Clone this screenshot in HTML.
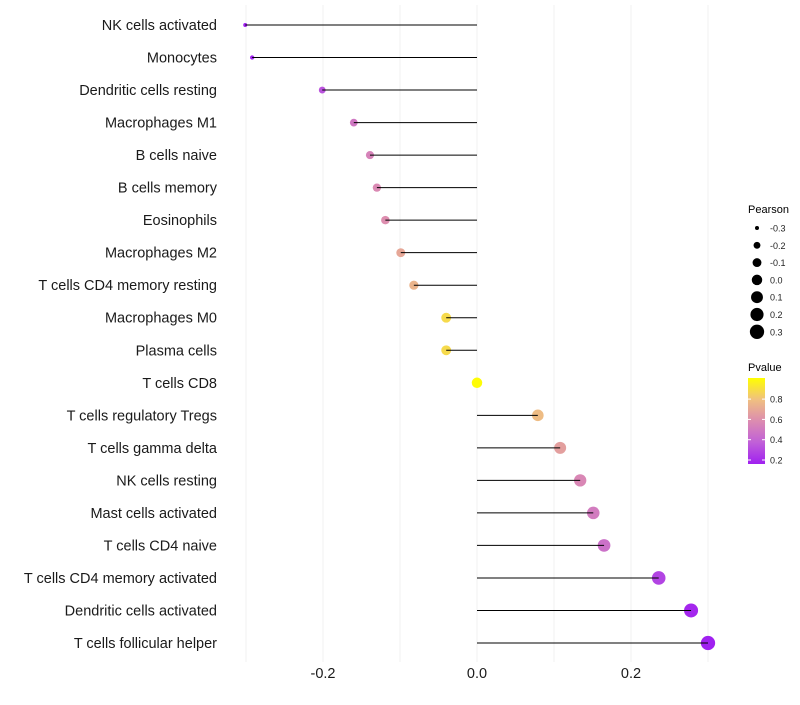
<!DOCTYPE html>
<html><head><meta charset="utf-8"><style>
body{margin:0;background:#fff;font-family:"Liberation Sans",sans-serif}
svg text{font-family:"Liberation Sans",sans-serif}
</style></head><body>
<svg id="chart" width="800" height="700" xmlns="http://www.w3.org/2000/svg">
<g id="grid"></g>
<g id="marks"></g>
<g id="ylabels"></g>
<g id="xlabels"></g>
<g id="legend">
<text x="748" y="213" font-size="11">Pearson</text>
<g id="sizeLeg"></g>
<text x="748" y="371" font-size="11">Pvalue</text>
<defs><linearGradient id="pg" x1="0" y1="1" x2="0" y2="0">
<stop offset="0" stop-color="#a020f0"/><stop offset="0.25" stop-color="#c060d8"/><stop offset="0.5" stop-color="#dc8cb0"/><stop offset="0.75" stop-color="#f0c080"/><stop offset="1" stop-color="#ffff00"/></linearGradient></defs>
<rect x="748" y="378" width="17" height="86" fill="url(#pg)"/>
<g id="colLeg"></g>
</g>
</svg>
<script>
const categories=["NK cells activated","Monocytes","Dendritic cells resting","Macrophages M1","B cells naive","B cells memory","Eosinophils","Macrophages M2","T cells CD4 memory resting","Macrophages M0","Plasma cells","T cells CD8","T cells regulatory  Tregs ","T cells gamma delta","NK cells resting","Mast cells activated","T cells CD4 naive","T cells CD4 memory activated","Dendritic cells activated","T cells follicular helper"];
const pearson=[-0.301,-0.292,-0.201,-0.160,-0.139,-0.130,-0.119,-0.099,-0.082,-0.040,-0.040,0.0,0.079,0.108,0.134,0.151,0.165,0.236,0.278,0.300];
const pvalues=[0.19,0.19,0.35,0.5,0.55,0.58,0.6,0.7,0.75,0.88,0.88,0.99,0.78,0.67,0.57,0.52,0.47,0.3,0.21,0.19];
const xTicks=[-0.2,0.0,0.2];
const xTickLabels=["-0.2","0.0","0.2"];
const sizeTicks=[-0.3,-0.2,-0.1,0.0,0.1,0.2,0.3];
const colTicks=[0.2,0.4,0.6,0.8];
const NS="http://www.w3.org/2000/svg";
const X=v=>477+v*770;
const Y=i=>25+i*(643-25)/19;
const R=v=>Math.sqrt(4+Math.max(0,(v+0.3)/0.6)*47);
const CY=p=>460-(p-0.2)/0.2*20.3;
const stops=[[0.187,[160,32,240]],[0.39,[192,96,216]],[0.594,[220,140,176]],[0.797,[240,192,128]],[1.0,[255,255,0]]];
function col(p){p=Math.min(1,Math.max(0.187,p));
 for(let k=0;k<stops.length-1;k++){const a=stops[k],b=stops[k+1];if(p<=b[0]){const u=(p-a[0])/(b[0]-a[0]);
  return "rgb("+a[1].map((c,j)=>Math.round(c+(b[1][j]-c)*u)).join(",")+")";}}
 return "rgb(255,255,0)";}
function mk(tag,at,par){const e=document.createElementNS(NS,tag);for(const k in at)e.setAttribute(k,at[k]);document.getElementById(par).appendChild(e);return e;}
for(let k=-3;k<=3;k++){const v=k/10;
 const l=mk("line",{x1:X(v),x2:X(v),y1:5,y2:662,stroke:"#f0f0f0","stroke-width":1},"grid");
 
 }
categories.forEach((c,i)=>{
 const d=mk("circle",{cx:X(pearson[i]),cy:Y(i),r:R(pearson[i]),fill:col(pvalues[i])},"marks");
 
 
 const l=mk("line",{x1:X(0),x2:X(pearson[i]),y1:Y(i),y2:Y(i),stroke:"#000","stroke-width":1},"marks");
 
 
 const t=mk("text",{x:217,y:Y(i)+5,"text-anchor":"end","font-size":14.5,fill:"#1a1a1a"},"ylabels");
 t.textContent=c;
 
 });
xTicks.forEach((v,i)=>{const t=mk("text",{x:X(v),y:678,"text-anchor":"middle","font-size":14.5,fill:"#1a1a1a"},"xlabels");
 t.textContent=xTickLabels[i];
 
 });
sizeTicks.forEach((v,i)=>{const y=228+i*17.3;
 const c=mk("circle",{cx:757,cy:y,r:R(v),fill:"#000"},"sizeLeg");
 
 
 const t=mk("text",{x:770,y:y+3.5,"font-size":9,fill:"#222"},"sizeLeg");
 t.textContent=v.toFixed(1);
 
 });
colTicks.forEach(p=>{const y=CY(p);
 mk("line",{x1:748,x2:751,y1:y,y2:y,stroke:"#fff"},"colLeg");mk("line",{x1:762,x2:765,y1:y,y2:y,stroke:"#fff"},"colLeg");
 const t=mk("text",{x:770,y:y+3.5,"font-size":9,fill:"#222"},"colLeg");
 t.textContent=p.toFixed(1);
 
 });
</script>
</body></html>
